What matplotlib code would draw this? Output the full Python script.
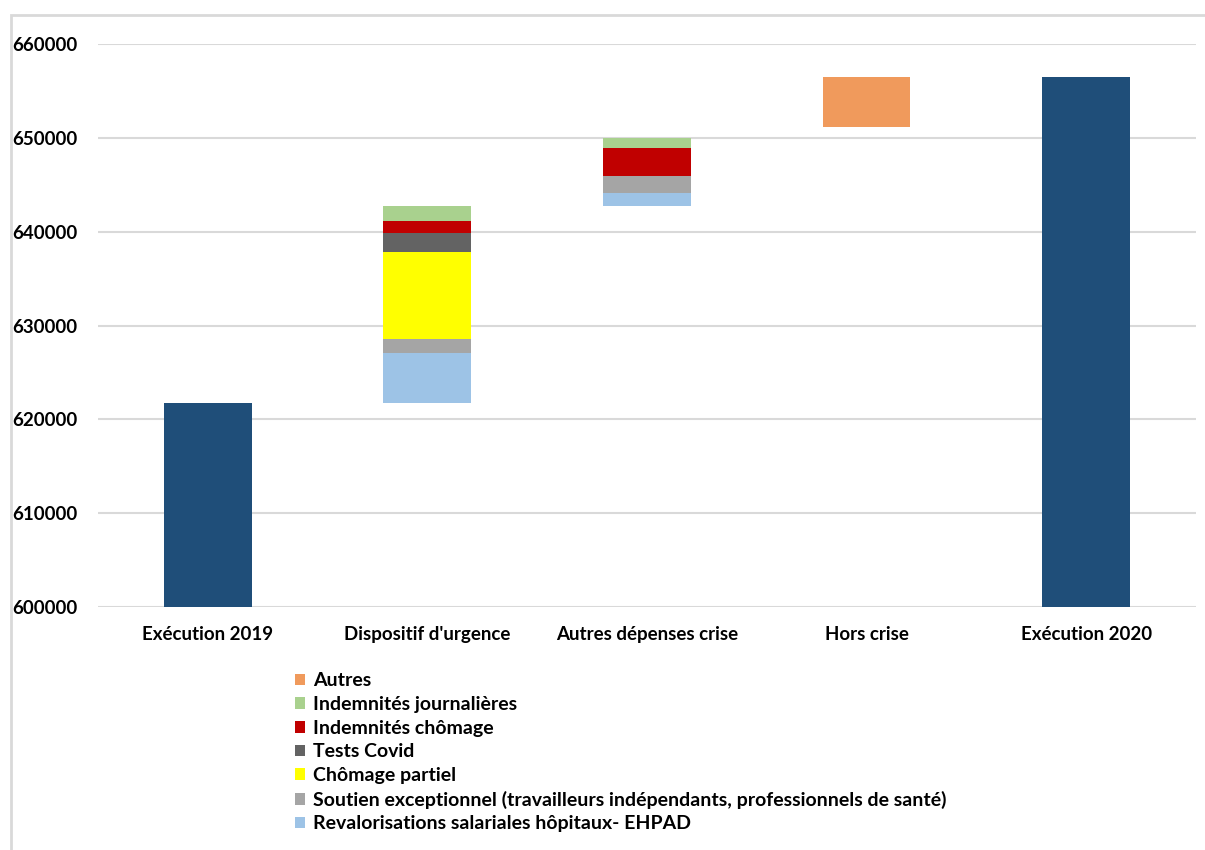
import numpy as np
import matplotlib.pyplot as plt
from matplotlib.patches import Rectangle

plt.rcParams['font.family'] = ['Lato', 'DejaVu Sans']
plt.rcParams['font.weight'] = 'bold'

categories = ["Exécution 2019", "Dispositif d'urgence", "Autres dépenses crise",
              "Hors crise", "Exécution 2020"]

# totals (full bars) and invisible offsets for the floating steps
execution = [621700, 0, 0, 0, 656500]
base = [0, 621700, 642700, 651150, 0]

# stacked components, bottom to top
revalorisations = [0, 5400, 1450, 0, 0]
soutien = [0, 1500, 1800, 0, 0]
chomage_partiel = [0, 9200, 0, 0, 0]
tests_covid = [0, 2100, 0, 0, 0]
indemn_chomage = [0, 1200, 3000, 0, 0]
indemn_journ = [0, 1600, 1050, 0, 0]
autres = [0, 0, 0, 5350, 0]

series = [
    ("Revalorisations salariales hôpitaux- EHPAD", revalorisations, "#9DC3E6"),
    ("Soutien exceptionnel (travailleurs indépendants, professionnels de santé)", soutien, "#A5A5A5"),
    ("Chômage partiel", chomage_partiel, "#FFFF00"),
    ("Tests Covid", tests_covid, "#636363"),
    ("Indemnités chômage", indemn_chomage, "#C00000"),
    ("Indemnités journalières", indemn_journ, "#A9D18E"),
    ("Autres", autres, "#F09A5C"),
]

fig = plt.figure(figsize=(12.05, 8.5), dpi=100)
ax = fig.add_axes([0.0813, 0.2859, 0.9112, 0.6623])

x = np.arange(len(categories))
w = 0.4

ax.bar(x, execution, w, color="#1F4E79", zorder=3)

bottom = np.array(base, dtype=float)
handles = []
for name, vals, col in series:
    vals = np.array(vals, dtype=float)
    b = ax.bar(x, vals, w, bottom=bottom, color=col, label=name, zorder=3)
    handles.append(b)
    bottom += vals

ax.set_ylim(600000, 660000)
ax.set_xlim(-0.5, 4.5)
ax.set_yticks(np.arange(600000, 660001, 10000))
ax.yaxis.grid(True, color="#D9D9D9", linewidth=1.5, zorder=0)
for s in ax.spines.values():
    s.set_visible(False)
ax.tick_params(axis='both', length=0, labelsize=13.5)
ax.tick_params(axis='y', pad=15)
ax.tick_params(axis='x', pad=14)
ax.set_xticks(x)
ax.set_xticklabels(categories)

leg = fig.legend(handles[::-1], [s[0] for s in series][::-1],
                 loc="upper left", bbox_to_anchor=(0.238, 0.218),
                 frameon=False, fontsize=14, handlelength=0.55, handleheight=0.55,
                 handletextpad=0.4, labelspacing=0.34, borderaxespad=0)

# chart area border
fig.patches.append(Rectangle((0.009, -0.1), 1.1, 1.082, transform=fig.transFigure,
                             fill=False, edgecolor="#D9D9D9", linewidth=2))

fig.savefig("out.png", dpi=100)
